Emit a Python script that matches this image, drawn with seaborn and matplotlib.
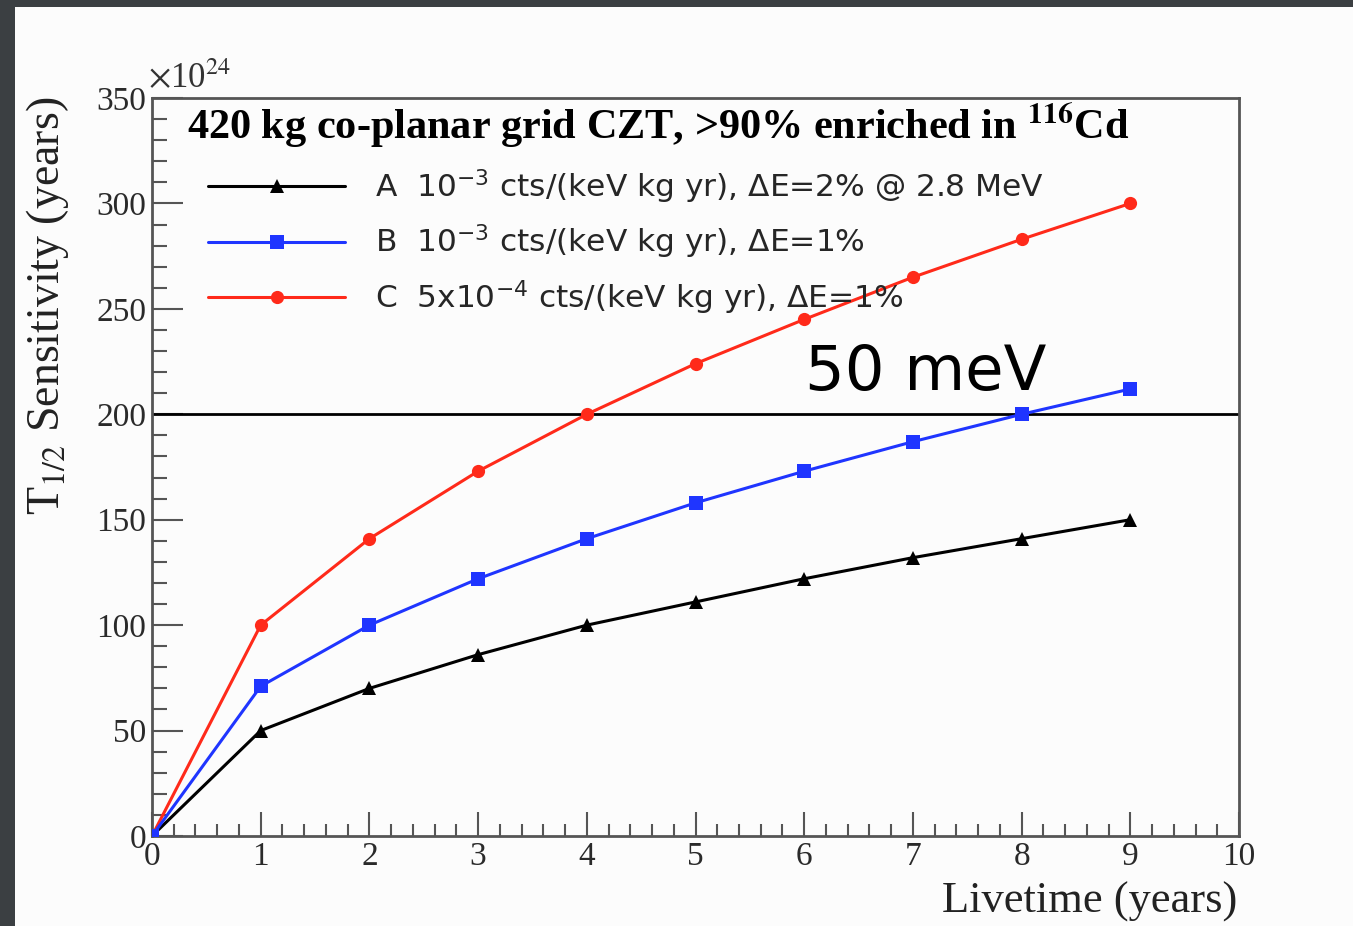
import matplotlib
matplotlib.use("Agg")
import matplotlib.pyplot as plt
from matplotlib.font_manager import FontProperties
from matplotlib.patches import Rectangle
from matplotlib.ticker import MultipleLocator
import seaborn as sns

# values (x 1e24 years)
livetime = [0, 1, 2, 3, 4, 5, 6, 7, 8, 9]
sens_a = [0, 50, 70, 86, 100, 111, 122, 132, 141, 150]
sens_b = [0, 71, 100, 122, 141, 158, 173, 187, 200, 212]
sens_c = [0, 100, 141, 173, 200, 224, 245, 265, 283, 300]
target = 200

labels = [
    r"A  10$^{\mathsf{-3}}$ cts/(keV kg yr), $\Delta$E=2% @ 2.8 MeV",
    r"B  10$^{\mathsf{-3}}$ cts/(keV kg yr), $\Delta$E=1%",
    r"C  5x10$^{\mathsf{-4}}$ cts/(keV kg yr), $\Delta$E=1%",
]

sns.set_theme(style="ticks")
plt.rcParams.update({
    "font.family": ["Liberation Serif", "DejaVu Serif"],
    "mathtext.fontset": "stix",
    "axes.edgecolor": "#555555",
    "axes.linewidth": 2.0,
})

SERIF = "Liberation Serif"
SANS = "DejaVu Sans"

fig = plt.figure(figsize=(13.53, 9.26), dpi=100, facecolor="#3b3f42")
fig.patches.append(Rectangle((15 / 1353, 0), 1, 1 - 7 / 926, transform=fig.transFigure,
                             facecolor="#fcfcfc", edgecolor="none", zorder=-10))
ax = fig.add_axes([152 / 1353, 1 - 836 / 926, (1239 - 152) / 1353, (836 - 98) / 926])
ax.set_facecolor("#fcfcfc")

sns.lineplot(x=livetime, y=sens_c, ax=ax, color="#ff2a1a", marker="o", markersize=9.5,
             markeredgewidth=0, linewidth=2.2, zorder=3)
sns.lineplot(x=livetime, y=sens_a, ax=ax, color="black", marker="^", markersize=9.5,
             markeredgewidth=0, linewidth=2.2, zorder=4)
sns.lineplot(x=livetime, y=sens_b, ax=ax, color="#1f35ff", marker="s", markersize=9.5,
             markeredgewidth=0, linewidth=2.2, zorder=5)
ax.axhline(target, color="black", linewidth=2, zorder=2)

ax.set_xlim(0, 10)
ax.set_ylim(0, 350)
ax.xaxis.set_major_locator(MultipleLocator(1))
ax.xaxis.set_minor_locator(MultipleLocator(0.2))
ax.yaxis.set_major_locator(MultipleLocator(50))
ax.yaxis.set_minor_locator(MultipleLocator(10))
ax.tick_params(axis="both", which="both", direction="in", colors="#555555",
               labelcolor="#2a2a2a", width=1.5, labelsize=24, top=False, right=False)
ax.tick_params(axis="y", which="major", length=22, pad=4)
ax.tick_params(axis="y", which="minor", length=11)
ax.tick_params(axis="x", which="major", length=17, pad=4)
ax.tick_params(axis="x", which="minor", length=9)
for lab in ax.get_xticklabels() + ax.get_yticklabels():
    lab.set_family(SERIF)

ax.set_xlabel("")
ax.set_ylabel("")
fig.text(1237 / 1353, 4 / 926, "Livetime (years)", ha="right", va="bottom",
         fontsize=32, family=SERIF, color="#222222")
fig.text(48 / 1353, 1 - 97 / 926, r"T$_{1/2}$ Sensitivity (years)", rotation=90,
         ha="center", va="top", fontsize=33, family=SERIF, color="#222222")
fig.text(148 / 1353, 1 - 96 / 926, r"$\times$10$^{24}$", ha="left", va="bottom",
         fontsize=25, family=SERIF, color="#333333")

ax.text(0.032, 0.963, r"420 kg co-planar grid CZT, >90% enriched in $^{\mathbf{116}}$Cd",
        transform=ax.transAxes, ha="left", va="center", fontsize=30.4, fontweight="bold",
        family=SERIF, color="black")
ax.text(0.601, 0.604, "50 meV", transform=ax.transAxes, ha="left", va="baseline",
        fontsize=45, family=SANS, color="black")

handles = ax.get_lines()[:3]
handles = [handles[1], handles[2], handles[0]]
ax.legend(handles, labels, loc="upper left", bbox_to_anchor=(0.0515, 0.9065), frameon=False,
          prop=FontProperties(family=SANS, size=22.5, math_fontfamily="dejavusans"),
          handlelength=4.4, handletextpad=0.95, labelspacing=0.55, borderpad=0,
          borderaxespad=0, numpoints=1)

fig.savefig("out.png", dpi=100, facecolor=fig.get_facecolor())
